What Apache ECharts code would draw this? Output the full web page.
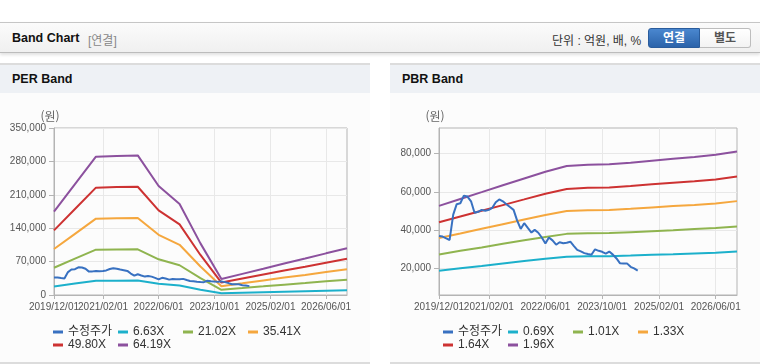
<!DOCTYPE html>
<html lang="ko">
<head>
<meta charset="UTF-8">
<title>Band Chart</title>
<script src="https://cdn.jsdelivr.net/npm/echarts@6/dist/echarts.min.js"></script>
<style>
    body { margin: 0; width: 760px; height: 364px; background: #fff; position: relative; overflow: hidden;
        font-family: 'Liberation Sans', 'Noto Sans CJK KR', sans-serif; }
    .topbar { position: absolute; left: 0; top: 22px; width: 760px; height: 29px;
        border-top: 1px solid #c6c6c6; border-bottom: 1px solid #bcbcbc;
        background: linear-gradient(#fbfbfb, #f0f0f0); box-shadow: 0 2px 3px rgba(0,0,0,0.12); }
    .ttl { position: absolute; left: 12px; top: 8px; font-size: 12.5px; font-weight: bold; color: #111; }
    .sub { position: absolute; left: 88px; top: 8px; font-size: 12px; color: #888; }
    .unit { position: absolute; left: 552px; top: 8px; font-size: 12px; color: #333; }
    .btn { position: absolute; top: 5px; height: 18px; line-height: 18px; width: 50px; text-align: center;
        font-size: 12px; font-weight: bold; }
    .btn.on { left: 648px; color: #fff; background: linear-gradient(#4a87cf, #2b63aa);
        border: 1px solid #2a5c9c; border-radius: 3px 0 0 3px; }
    .btn.off { left: 700px; color: #555; background: linear-gradient(#fff, #f3f3f3);
        border: 1px solid #bdbdbd; border-left: none; border-radius: 0 3px 3px 0; }
    .panel { position: absolute; top: 63px; width: 370px; height: 297px;
        border-top: 2px solid #dcdcdc; border-bottom: 2px solid #dcdcdc; background: #fcfcfc; }
    .ph { height: 28px; line-height: 28px; background: #eef1f5; padding-left: 12px;
        font-size: 12.5px; font-weight: bold; color: #111; }
    .chart { position: absolute; top: 96px; width: 370px; height: 264px; }
</style>
</head>
<body>
<div class="topbar">
    <span class="ttl">Band Chart</span>
    <span class="sub">[연결]</span>
    <span class="unit">단위 : 억원, 배, %</span>
    <span class="btn on">연결</span>
    <span class="btn off">별도</span>
</div>
<div class="panel" style="left:0;"><div class="ph">PER Band</div></div>
<div class="panel" style="left:390px;"><div class="ph">PBR Band</div></div>
<div id="per" class="chart" style="left:0;"></div>
<div id="pbr" class="chart" style="left:390px;"></div>

<script>
    // x축 눈금
    var xTicks = ['2019-12-01', '2021-02-01', '2022-06-01', '2023-10-01', '2025-02-01', '2026-06-01'];
    var xRange = ['2019-12-01', '2026-12-01'];

    // 밴드 기준일 (반기)
    var bandDates = ['2019-12-01', '2020-06-01', '2020-12-01', '2021-06-01', '2021-12-01', '2022-06-01',
        '2022-12-01', '2023-06-01', '2023-12-01', '2024-06-01', '2024-12-01', '2025-06-01',
        '2025-12-01', '2026-06-01', '2026-12-01'];

    // 수정주가 (월별)
    var priceMonths = ['2019-12', '2020-01', '2020-02', '2020-03', '2020-04', '2020-05', '2020-06', '2020-07',
        '2020-08', '2020-09', '2020-10', '2020-11', '2020-12', '2021-01', '2021-02', '2021-03', '2021-04',
        '2021-05', '2021-06', '2021-07', '2021-08', '2021-09', '2021-10', '2021-11', '2021-12', '2022-01',
        '2022-02', '2022-03', '2022-04', '2022-05', '2022-06', '2022-07', '2022-08', '2022-09', '2022-10',
        '2022-11', '2022-12', '2023-01', '2023-02', '2023-03', '2023-04', '2023-05', '2023-06', '2023-07',
        '2023-08', '2023-09', '2023-10', '2023-11', '2023-12', '2024-01', '2024-02', '2024-03', '2024-04',
        '2024-05', '2024-06', '2024-07', '2024-08'];
    var priceValues = [36800, 36500, 35500, 34700, 48000, 53500, 54000, 58000, 57500, 55000, 49000, 49500,
        50500, 50000, 50500, 51500, 54500, 56000, 55000, 53500, 52000, 50500, 45000, 40500, 43500, 41000,
        38600, 40000, 38500, 36000, 32800, 36000, 34500, 32200, 33500, 33000, 33200, 33800, 31500, 29500,
        28700, 27800, 27300, 26900, 29800, 29000, 28500, 27500, 28600, 27000, 25000, 22500, 22400, 22400,
        20600, 19800, 18600];

    // PER 밴드
    var perNames = ['수정주가', '6.63X', '21.02X', '35.41X', '49.80X', '64.19X'];
    var per663 = [18000, 24000, 30000, 30100, 30200, 23600, 19700, 11200, 3500, 4600, 5700, 6800, 7900, 9000, 10100];
    var per2102 = [57200, 76100, 95000, 95400, 95800, 74800, 62400, 35400, 11000, 14500, 18100, 21700, 25000, 28600, 32100];
    var per3541 = [96300, 128200, 160000, 160800, 161400, 126100, 105200, 59700, 18500, 24400, 30500, 36500, 42100, 48200, 54000];
    var per4980 = [135500, 180300, 225000, 226100, 226900, 177300, 147900, 83900, 26000, 34400, 42800, 51300, 59300, 67700, 75900];
    var per6419 = [174600, 232400, 290000, 291400, 292500, 228500, 190600, 108200, 33500, 44300, 55200, 66100, 76400, 87300, 97900];

    // PBR 밴드
    var pbrNames = ['수정주가', '0.69X', '1.01X', '1.33X', '1.64X', '1.96X'];
    var pbr069 = [18500, 19800, 21000, 22300, 23600, 24800, 25900, 26100, 26200, 26500, 26900, 27200, 27600, 28000, 28600];
    var pbr101 = [27100, 29000, 30800, 32700, 34500, 36300, 37900, 38200, 38300, 38800, 39300, 39800, 40400, 41000, 41800];
    var pbr133 = [35700, 38100, 40600, 43000, 45400, 47800, 49900, 50300, 50500, 51100, 51800, 52500, 53100, 53900, 55100];
    var pbr164 = [44000, 47000, 50000, 53000, 56000, 59000, 61500, 62100, 62200, 63000, 63900, 64700, 65500, 66500, 68000];
    var pbr196 = [52600, 56200, 59800, 63400, 67000, 70500, 73500, 74200, 74400, 75300, 76300, 77300, 78300, 79500, 81200];

    // y축
    var perYTicks = [0, 70000, 140000, 210000, 280000, 350000];
    var pbrYTicks = [20000, 40000, 60000, 80000];

    var colors = ['#3871c1', '#1cb0cb', '#8fb44f', '#f5a73e', '#cd3232', '#8c519e'];
    var axisFont = "'Liberation Sans', sans-serif";
    var legendFont = "'Liberation Sans', 'Noto Sans CJK KR', sans-serif";

    // 범례 배치 (4열 2행)
    var legendCols = [53, 118, 183, 248];
    var legendRows = [230, 243];

    function ts(s) { return Date.parse(s + 'T00:00:00Z'); }

    function fmtDate(v) {
        var d = new Date(Math.round(v));
        var m = d.getUTCMonth() + 1, day = d.getUTCDate();
        return d.getUTCFullYear() + '/' + (m < 10 ? '0' + m : m) + '/' + (day < 10 ? '0' + day : day);
    }

    function pairs(dates, values) {
        var out = [];
        for (var i = 0; i < values.length; i++) {
            out.push([ts(dates[i]), values[i]]);
        }
        return out;
    }

    function makeLegends(names) {
        return names.map(function (n, i) {
            return {
                data: [n], padding: 0,
                left: legendCols[i % 4], top: legendRows[Math.floor(i / 4)],
                icon: 'rect', itemWidth: 10, itemHeight: 3,
                textStyle: { color: '#333', fontSize: 12, fontFamily: legendFont }
            };
        });
    }

    function makeOption(names, bands, yMin, yMax, yTicks, gridLeft, gridWidth) {
        var priceDates = priceMonths.map(function (m) { return m + '-01'; });
        var series = [{
            name: names[0], type: 'line', z: 5,
            data: pairs(priceDates, priceValues)
        }];
        for (var k = 0; k < bands.length; k++) {
            series.push({ name: names[k + 1], type: 'line', data: pairs(bandDates, bands[k]) });
        }
        series.forEach(function (s) {
            s.showSymbol = false;
            s.symbol = 'none';
            s.lineStyle = { width: 2 };
            s.animation = false;
        });
        var xt = xTicks.map(ts);
        var labelStyle = { formatter: fmtDate, color: '#555', fontSize: 10, fontFamily: axisFont, margin: 7 };
        return {
            color: colors,
            animation: false,
            grid: {
                left: gridLeft, top: 32, width: gridWidth, height: 167,
                show: true, borderColor: '#b4b4b4', borderWidth: 1
            },
            legend: makeLegends(names),
            xAxis: [{
                type: 'value',
                min: ts(xRange[0]), max: ts(xRange[1]),
                axisLine: { lineStyle: { color: '#b4b4b4' } },
                axisTick: { customValues: xt, length: 4, lineStyle: { color: '#b4b4b4' } },
                axisLabel: Object.assign({ customValues: xt.slice(1) }, labelStyle),
                splitLine: { show: true, lineStyle: { color: '#e8e8e8' } }
            }, {
                // 첫 눈금 라벨 (겹침 숨김 방지용)
                type: 'value', position: 'bottom',
                min: ts(xRange[0]), max: ts(xRange[1]),
                axisLine: { show: false }, axisTick: { show: false }, splitLine: { show: false },
                axisLabel: Object.assign({ customValues: xt.slice(0, 1) }, labelStyle)
            }],
            yAxis: {
                type: 'value',
                min: yMin, max: yMax,
                name: '(원)', nameLocation: 'end', nameGap: 6,
                nameTextStyle: { color: '#666', fontSize: 12, padding: [0, 8, 0, 0],
                    fontFamily: "'Noto Sans CJK KR', sans-serif" },
                axisLine: { show: true, lineStyle: { color: '#b4b4b4' } },
                axisTick: { show: true, customValues: yTicks, length: 5, lineStyle: { color: '#b4b4b4' } },
                axisLabel: { customValues: yTicks, color: '#555', fontSize: 10, fontFamily: axisFont, margin: 8 },
                splitLine: { show: true, lineStyle: { color: '#e8e8e8' } }
            },
            series: series
        };
    }

    var perChart = echarts.init(document.getElementById('per'));
    perChart.setOption(makeOption(perNames, [per663, per2102, per3541, per4980, per6419],
        0, 350000, perYTicks, 54, 293));

    var pbrChart = echarts.init(document.getElementById('pbr'));
    pbrChart.setOption(makeOption(pbrNames, [pbr069, pbr101, pbr133, pbr164, pbr196],
        5800, 93500, pbrYTicks, 49, 298));
</script>
</body>
</html>
